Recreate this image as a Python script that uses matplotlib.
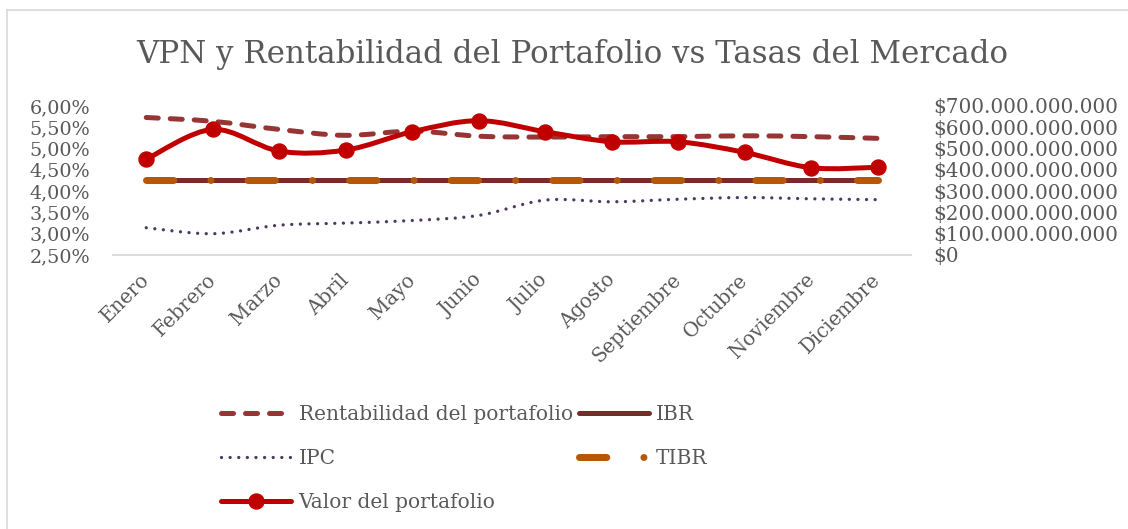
import numpy as np
import matplotlib
matplotlib.use('Agg')
import matplotlib.pyplot as plt
from matplotlib.path import Path
from matplotlib.patches import PathPatch
from matplotlib.lines import Line2D
from matplotlib.ticker import FuncFormatter, FixedLocator

# ---------------- data ----------------
months = ['Enero', 'Febrero', 'Marzo', 'Abril', 'Mayo', 'Junio', 'Julio',
          'Agosto', 'Septiembre', 'Octubre', 'Noviembre', 'Diciembre']
rentabilidad = [5.73, 5.64, 5.45, 5.31, 5.41, 5.29, 5.27, 5.28, 5.28, 5.30, 5.28, 5.24]
ibr = [4.25, 4.25, 4.25, 4.25, 4.25, 4.25, 4.25, 4.25, 4.25, 4.25, 4.25, 4.25]
ipc = [3.14, 3.00, 3.20, 3.25, 3.31, 3.43, 3.79, 3.75, 3.81, 3.85, 3.82, 3.80]
tibr = [4.25, 4.25, 4.25, 4.25, 4.25, 4.25, 4.25, 4.25, 4.25, 4.25, 4.25, 4.25]
valor = [450e9, 590e9, 488e9, 493e9, 579e9, 631e9, 579e9, 532e9, 532e9, 482e9, 410e9, 412e9]
left_ticks = [2.5, 3.0, 3.5, 4.0, 4.5, 5.0, 5.5, 6.0]
right_ticks = [0, 100e9, 200e9, 300e9, 400e9, 500e9, 600e9, 700e9]

title = 'VPN y Rentabilidad del Portafolio vs Tasas del Mercado'
labels = ['Rentabilidad del portafolio', 'IBR', 'IPC', 'TIBR', 'Valor del portafolio']

# ---------------- style ----------------
plt.rcParams['font.family'] = ['DejaVu Serif']
TXT = '#595959'
C_RENT = '#963634'
C_IBR = '#772C2A'
C_IPC = '#4B3A62'
C_TIBR = '#B65708'
C_VAL = '#C00000'
GRID = '#D9D9D9'

W, H = 1128, 529
fig = plt.figure(figsize=(W / 100, H / 100), dpi=100)
ax = fig.add_axes([113 / W, 1 - 255 / H, (911 - 113) / W, (255 - 106) / H])
ax2 = ax.twinx()
ax2.set_zorder(ax.get_zorder() + 1)
ax2.patch.set_visible(False)

x = np.arange(len(months))


def smooth_path(xs, ys):
    pts = list(zip(xs, ys))
    n = len(pts)
    verts = [pts[0]]
    codes = [Path.MOVETO]
    for i in range(n - 1):
        p0 = pts[i - 1] if i > 0 else pts[i]
        p1 = pts[i]
        p2 = pts[i + 1]
        p3 = pts[i + 2] if i + 2 < n else pts[i + 1]
        c1 = (p1[0] + (p2[0] - p0[0]) / 6, p1[1] + (p2[1] - p0[1]) / 6)
        c2 = (p2[0] - (p3[0] - p1[0]) / 6, p2[1] - (p3[1] - p1[1]) / 6)
        verts += [c1, c2, p2]
        codes += [Path.CURVE4] * 3
    return Path(verts, codes)


px = 0.72  # points per pixel at 100 dpi

rent_style = dict(color=C_RENT, lw=5 * px, linestyle=(0, (2.4, 2.4)))
ibr_style = dict(color=C_IBR, lw=5 * px, linestyle='-')
ipc_style = dict(color=C_IPC, lw=3.3 * px, linestyle=(0, (0.01, 2.6)))
tibr_style = dict(color=C_TIBR, lw=7 * px, linestyle=(0, (3.9, 5.3, 0.01, 5.3)))
val_style = dict(color=C_VAL, lw=5 * px, linestyle='-')

# primary axis series
ax.add_patch(PathPatch(smooth_path(x, rentabilidad), fill=False, capstyle='round',
                       joinstyle='round', zorder=3, **rent_style))
ax.plot(x, ibr, solid_capstyle='round', zorder=3, **ibr_style)
ax.add_patch(PathPatch(smooth_path(x, ipc), fill=False, capstyle='round',
                       joinstyle='round', zorder=3, **ipc_style))
ax.plot(x, tibr, dash_capstyle='round', zorder=4, **tibr_style)

# secondary axis series
ax2.add_patch(PathPatch(smooth_path(x, valor), fill=False, capstyle='round',
                        joinstyle='round', zorder=3, **val_style))
ax2.plot(x, valor, linestyle='none', marker='o', markersize=15 * px,
         color=C_VAL, zorder=4)

# axes setup
ax.set_xlim(-0.5, len(months) - 0.5)
ax.set_ylim(2.5, 6.0)
ax2.set_ylim(0, 700e9)
ax.yaxis.set_major_locator(FixedLocator(left_ticks))
ax2.yaxis.set_major_locator(FixedLocator(right_ticks))
ax.yaxis.set_major_formatter(FuncFormatter(lambda v, p: f'{v:.2f}'.replace('.', ',') + '%'))
ax2.yaxis.set_major_formatter(FuncFormatter(
    lambda v, p: '$' + f'{int(round(v)):,}'.replace(',', '.')))
ax.set_xticks(x)
ax.set_xticklabels(months, rotation=45, ha='right', va='center',
                   rotation_mode='anchor')

for a in (ax, ax2):
    for s in ('top', 'left', 'right'):
        a.spines[s].set_visible(False)
    a.spines['bottom'].set_color(GRID)
    a.spines['bottom'].set_linewidth(1.5 * px)
    a.tick_params(length=0, labelsize=13.8, labelcolor=TXT)

ax.tick_params(axis='x', labelsize=14.2)
ax2.tick_params(axis='y', labelsize=14.4)
ax.tick_params(axis='y', pad=23 * px)
ax2.tick_params(axis='y', pad=22 * px)
ax.tick_params(axis='x', pad=22 * px)

# title
fig.text(572 / W, 1 - 55 / H, title, ha='center', va='center',
         fontsize=22.2, color=TXT)

# legend (proxy handles matching plotted styles)
h_rent = Line2D([], [], dash_capstyle='round', **rent_style)
h_ibr = Line2D([], [], solid_capstyle='round', **ibr_style)
h_ipc = Line2D([], [], dash_capstyle='round', **ipc_style)
h_tibr = Line2D([], [], dash_capstyle='round', **tibr_style)
h_val = Line2D([], [], solid_capstyle='round', marker='o', markersize=15 * px, **val_style)
handles = [h_rent, h_ipc, h_val, h_ibr, h_tibr]
leg_labels = [labels[0], labels[2], labels[4], labels[1], labels[3]]
leg = fig.legend(handles, leg_labels, ncol=2, loc='upper left',
                 bbox_to_anchor=(221 / W, 1 - 405 / H), frameon=False,
                 fontsize=14.5, labelcolor=TXT, handlelength=3.5,
                 handletextpad=0.35, columnspacing=0.3, labelspacing=1.24,
                 borderpad=0, borderaxespad=0, markerscale=1.0)

# chart border (left and top)
fig.add_artist(Line2D([7 / W, 7 / W], [0, 1 - 10 / H], transform=fig.transFigure,
                      color=GRID, lw=1.2))
fig.add_artist(Line2D([7 / W, 1], [1 - 10 / H, 1 - 10 / H], transform=fig.transFigure,
                      color=GRID, lw=1.2))

fig.savefig('out.png', dpi=100, facecolor='white')
